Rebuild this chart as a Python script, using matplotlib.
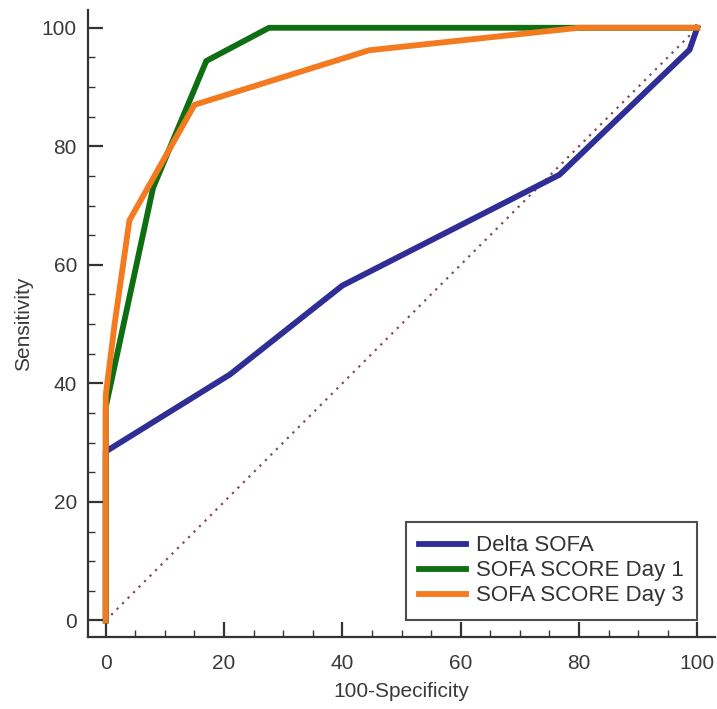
import matplotlib
matplotlib.use("Agg")
import matplotlib.pyplot as plt

plt.rcParams['font.family'] = ['Liberation Sans', 'DejaVu Sans']

# Data (100-Specificity, Sensitivity)
delta_x = [0, 0, 21, 40, 76.7, 98.7, 100]
delta_y = [0, 28.5, 41.5, 56.5, 75.2, 96.3, 100]

day1_x = [0, 0, 8, 17, 27.6, 100]
day1_y = [0, 36, 73, 94.4, 100, 100]

day3_x = [0, 0, 1.5, 4, 15, 44.5, 80, 100]
day3_y = [0, 38, 50, 67.5, 87, 96.2, 100, 100]

ref_x = [0, 100]
ref_y = [0, 100]

labels = ["Delta SOFA", "SOFA SCORE Day 1", "SOFA SCORE Day 3"]
colors = ["#2E2E96", "#0E6E12", "#F47A1F"]

fig = plt.figure(figsize=(7.17, 7.09), dpi=100)
ax = fig.add_axes([88/717, (709-637)/709, (715-88)/717, (637-10)/709])

ax.plot(ref_x, ref_y, linestyle=(0, (1, 2.5)), color="#7E4A5E", lw=1.6, zorder=1)
ax.plot(delta_x, delta_y, color=colors[0], lw=4.2, label=labels[0], zorder=2, solid_joinstyle='round')
ax.plot(day1_x, day1_y, color=colors[1], lw=4.2, label=labels[1], zorder=3, solid_joinstyle='round')
ax.plot(day3_x, day3_y, color=colors[2], lw=4.2, label=labels[2], zorder=4, solid_joinstyle='round')

ax.set_xlim(-3.0, 103)
ax.set_ylim(-2.8, 103)

ax.spines['top'].set_visible(False)
ax.spines['right'].set_visible(False)
for s in ['left', 'bottom']:
    ax.spines[s].set_linewidth(1.6)
    ax.spines[s].set_color('#333333')

ticks = [0, 20, 40, 60, 80, 100]
ax.set_xticks(ticks)
ax.set_yticks(ticks)
ax.set_xticks(range(0, 101, 5), minor=True)
ax.set_yticks(range(0, 101, 5), minor=True)
ax.tick_params(which='major', direction='in', length=11, width=1.6, color='#333333',
               labelsize=15, labelcolor='#3a3a3a')
ax.tick_params(axis='x', which='major', pad=12)
ax.tick_params(axis='y', which='major', pad=8)
ax.tick_params(which='minor', direction='in', length=5, width=1.0, color='#333333')

ax.set_xlabel("100-Specificity", fontsize=15, color='#3a3a3a', labelpad=7)
ax.set_ylabel("Sensitivity", fontsize=15, color='#3a3a3a', labelpad=6)

leg = ax.legend(loc='lower right', bbox_to_anchor=(100.0, 0.1), bbox_transform=ax.transData,
                fontsize=16, frameon=True, fancybox=False, edgecolor='#222222',
                handlelength=2.1, handletextpad=0.45, labelspacing=0.18, borderpad=0.6,
                borderaxespad=0)
leg.get_frame().set_linewidth(1.5)
for t in leg.get_texts():
    t.set_color('#333333')

fig.savefig("out.png", dpi=100)
